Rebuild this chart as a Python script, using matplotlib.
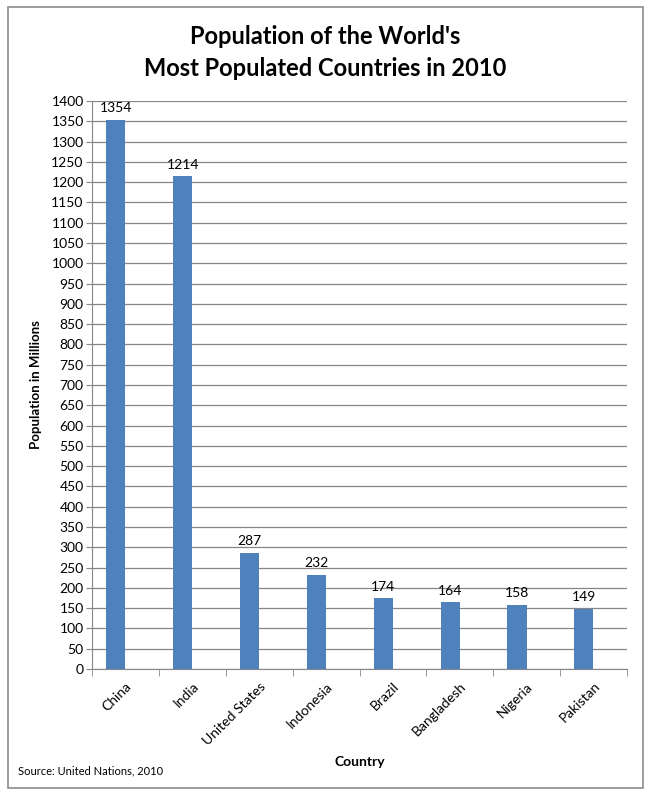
import matplotlib.pyplot as plt
from matplotlib.patches import Rectangle

countries = ["China", "India", "United States", "Indonesia", "Brazil",
             "Bangladesh", "Nigeria", "Pakistan"]
population = [1354, 1214, 287, 232, 174, 164, 158, 149]
y_ticks = list(range(0, 1401, 50))

plt.rcParams["font.family"] = ["Lato", "DejaVu Sans"]

fig = plt.figure(figsize=(6.5, 7.98), dpi=100)

# grey frame around the whole chart
fig.patches.append(Rectangle((8 / 650, 10 / 798), 635 / 650, 781 / 798,
                             transform=fig.transFigure, fill=False,
                             edgecolor="#8c8c8c", linewidth=1.2))

ax = fig.add_axes([92 / 650, 129 / 798, 535 / 650, 568 / 798])
x = list(range(len(countries)))
# bars sit left of the category centre, like an Excel chart with an empty 2nd series
bars = ax.bar([i - 0.145 for i in x], population, width=0.285,
              color="#4f81bd", zorder=3)

for b, v in zip(bars, population):
    ax.text(b.get_x() + b.get_width() / 2, v + 14, str(v),
            ha="center", va="bottom", fontsize=10)

ax.set_xlim(-0.5, len(countries) - 0.5)
ax.set_ylim(0, 1400)
ax.set_yticks(y_ticks)
ax.tick_params(axis="y", labelsize=10, length=4, color="#868686", pad=2)
ax.yaxis.grid(True, color="#868686", linewidth=0.9, zorder=0)

ax.set_xticks(x)
ax.set_xticklabels(countries, rotation=45, ha="right", rotation_mode="anchor",
                   fontsize=10)
ax.tick_params(axis="x", length=0, pad=8)
ax.set_xticks([i + 0.5 for i in range(-1, len(countries))], minor=True)
ax.tick_params(axis="x", which="minor", length=5, color="#868686")

for s in ["top", "right"]:
    ax.spines[s].set_visible(False)
for s in ["left", "bottom"]:
    ax.spines[s].set_color("#868686")

ax.set_ylabel("Population in Millions", fontsize=9.5, fontweight="bold")
ax.yaxis.set_label_coords(-0.093, 0.5)
fig.text(360 / 650, 1 - 762 / 798, "Country", ha="center", va="center",
         fontsize=10, fontweight="bold")
fig.text(18 / 650, 1 - 771 / 798, "Source: United Nations, 2010",
         ha="left", va="center", fontsize=8)

fig.text(325 / 650, 1 - 36 / 798, "Population of the World's",
         ha="center", va="center", fontsize=17, fontweight="bold")
fig.text(325 / 650, 1 - 68 / 798, "Most Populated Countries in 2010",
         ha="center", va="center", fontsize=17, fontweight="bold")

fig.savefig("out.png", dpi=100)
